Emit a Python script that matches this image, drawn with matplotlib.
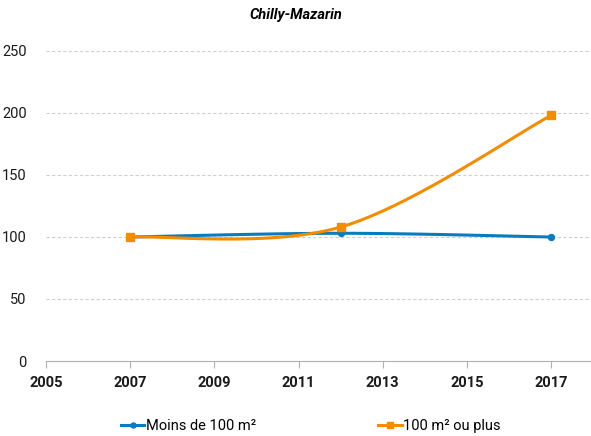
import matplotlib

matplotlib.use("Agg")
import matplotlib.pyplot as plt
import numpy as np
from matplotlib.lines import Line2D

plt.rcParams["font.family"] = ["Roboto", "DejaVu Sans"]

YEARS = [2007, 2012, 2017]
SMALL = [100, 103, 100]      # Moins de 100 m²
LARGE = [100, 108, 198]      # 100 m² ou plus
XTICKS = [2005, 2007, 2009, 2011, 2013, 2015, 2017]
YTICKS = [0, 50, 100, 150, 200, 250]
BLUE, ORANGE, GRID = "#0a7bbd", "#f28c00", "#cfcfcf"


def smooth(xs, ys, n=60):
    """Excel-style smoothed line (cubic Bezier, tangents from neighbours / 6)."""
    p = np.column_stack([xs, ys]).astype(float)
    out = []
    for i in range(len(p) - 1):
        p0 = p[max(i - 1, 0)]
        p1, p2 = p[i], p[i + 1]
        p3 = p[min(i + 2, len(p) - 1)]
        c1 = p1 + (p2 - p0) / 6
        c2 = p2 - (p3 - p1) / 6
        t = np.linspace(0, 1, n)[:, None]
        seg = ((1 - t) ** 3) * p1 + 3 * (1 - t) ** 2 * t * c1 + 3 * (1 - t) * t ** 2 * c2 + t ** 3 * p2
        out.append(seg if i == 0 else seg[1:])
    seg = np.vstack(out)
    return seg[:, 0], seg[:, 1]


fig = plt.figure(figsize=(5.91, 4.36), dpi=100)
ax = fig.add_axes([46 / 591, 1 - 361 / 436, 544 / 591, 310 / 436])

for vals, col, mk, ms in [(SMALL, BLUE, "o", 4.3), (LARGE, ORANGE, "s", 5.2)]:
    sx, sy = smooth(YEARS, vals)
    ax.plot(sx, sy, color=col, lw=2.2, solid_capstyle="round", zorder=3)
    ax.plot(YEARS, vals, mk, color=col, ms=ms, zorder=4)

ax.set_xlim(2005, 2017 + 544 / 505 * 12 - 12)
ax.set_ylim(0, 250)
ax.set_xticks(XTICKS)
ax.set_yticks(YTICKS)
ax.set_xticklabels([str(x) for x in XTICKS], fontweight="bold", fontsize=10.5)
ax.set_yticklabels([str(y) for y in YTICKS], fontsize=10.5)
for s in ["top", "right", "left"]:
    ax.spines[s].set_visible(False)
ax.spines["bottom"].set_color("#b0b0b0")
ax.tick_params(axis="x", length=5, color="#b0b0b0", pad=6, colors="#1a1a1a")
ax.tick_params(axis="y", length=0, pad=14, colors="#1a1a1a")
ax.yaxis.grid(True, ls=(0, (3, 2)), color=GRID, lw=0.8)
ax.set_axisbelow(True)
for t in ax.get_ygridlines()[:1]:
    t.set_visible(False)

fig.text(0.5, 1 - 15 / 436, "Chilly-Mazarin", ha="center", va="center",
         fontsize=10.5, fontweight="bold", fontstyle="italic")

handles = [
    Line2D([], [], color=BLUE, lw=2.2, marker="o", ms=3.6),
    Line2D([], [], color=ORANGE, lw=2.2, marker="s", ms=4.4),
]
fig.legend(handles, ["Moins de 100 m²", "100 m² ou plus"], loc="center",
           bbox_to_anchor=(0.526, 1 - 426 / 436), ncol=2, frameon=False,
           fontsize=10.5, handlelength=1.6, handletextpad=0.1, columnspacing=8.4)

fig.savefig("out.png", dpi=100)
